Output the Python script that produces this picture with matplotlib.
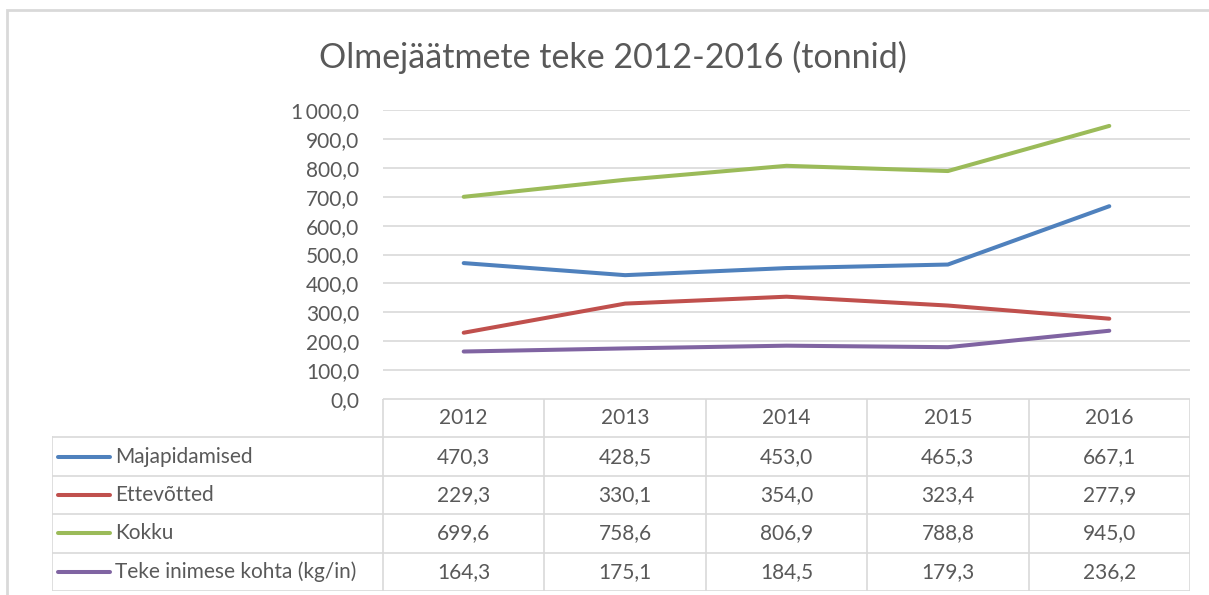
import numpy as np
import matplotlib.pyplot as plt
from matplotlib.patches import Rectangle
from matplotlib.ticker import FuncFormatter

years = ['2012', '2013', '2014', '2015', '2016']
series_names = ['Majapidamised', 'Ettevõtted', 'Kokku', 'Teke inimese kohta (kg/in)']
majapidamised = [470.3, 428.5, 453.0, 465.3, 667.1]
ettevotted = [229.3, 330.1, 354.0, 323.4, 277.9]
kokku = [699.6, 758.6, 806.9, 788.8, 945.0]
teke_inimese_kohta = [164.3, 175.1, 184.5, 179.3, 236.2]
colors = ['#4F81BD', '#C0504D', '#9BBB59', '#8064A2']

values = [majapidamised, ettevotted, kokku, teke_inimese_kohta]

plt.rcParams['font.family'] = ['Lato', 'DejaVu Sans']
txt = '#595959'
grid_c = '#D9D9D9'

W, H = 1209, 595
fig = plt.figure(figsize=(W / 100, H / 100), dpi=100, facecolor='w')

def fx(px):
    return px / W

def fy(py):
    return 1 - py / H

# outer chart frame (cut off on right/bottom)
fig.patches.append(Rectangle((fx(7), fy(640)), fx(1300), fy(10) - fy(640),
                             transform=fig.transFigure, fill=False,
                             edgecolor='#D9D9D9', linewidth=2))

fig.text(fx(613), fy(57), 'Olmejäätmete teke 2012-2016 (tonnid)', ha='center',
         va='center', fontsize=24.5, color=txt)

# line chart area
left, right, top, bottom = 383, 1190, 110, 399
ax = fig.add_axes([fx(left), fy(bottom), fx(right - left), fy(top) - fy(bottom)])
x = np.arange(len(years))
for vals, c in zip(values, colors):
    ax.plot(x, vals, color=c, linewidth=2.9, solid_capstyle='round')
ax.set_xlim(-0.5, len(years) - 0.5)
ax.set_ylim(0, 1000)
ax.set_yticks(np.arange(0, 1001, 100))
ax.yaxis.set_major_formatter(FuncFormatter(
    lambda v, p: f'{v:,.1f}'.replace(',', '\u2009').replace('.', ',')))
ax.tick_params(axis='y', length=0, pad=17, labelsize=15, labelcolor=txt)
ax.set_xticks([])
ax.grid(axis='y', color=grid_c, linewidth=1.2)
ax.set_axisbelow(True)
for s in ax.spines.values():
    s.set_visible(False)

# data table
tleft, tbottom = 52, 591
ncol = len(years)
colw = (right - left) / ncol
lab_w = (left - tleft) / colw
tax = fig.add_axes([fx(tleft), fy(tbottom), fx(right - tleft), fy(bottom) - fy(tbottom)])
tax.set_xlim(-lab_w, ncol)
tax.set_ylim(len(series_names) + 1, 0)
tax.axis('off')
lw = 1.2
nrows = len(series_names) + 1
tax.plot([0, ncol], [0, 0], color=grid_c, lw=lw)
for r in range(1, nrows + 1):
    tax.plot([-lab_w, ncol], [r, r], color=grid_c, lw=lw)
tax.plot([-lab_w, -lab_w], [1, nrows], color=grid_c, lw=lw)
for c in range(ncol + 1):
    tax.plot([c, c], [0, nrows], color=grid_c, lw=lw)

for c, yr in enumerate(years):
    tax.text(c + 0.5, 0.5, yr, ha='center', va='center', fontsize=15, color=txt)
for r, (name, vals, col) in enumerate(zip(series_names, values, colors)):
    yy = r + 1.5
    tax.plot([-lab_w + 0.04, -lab_w + 0.36], [yy, yy], color=col, lw=2.9,
             solid_capstyle='round')
    tax.text(-lab_w + 0.39, yy, name, ha='left', va='center', fontsize=15, color=txt)
    for c, v in enumerate(vals):
        tax.text(c + 0.5, yy, f'{v:.1f}'.replace('.', ','), ha='center',
                 va='center', fontsize=15, color=txt)

fig.savefig('out.png', dpi=100)
